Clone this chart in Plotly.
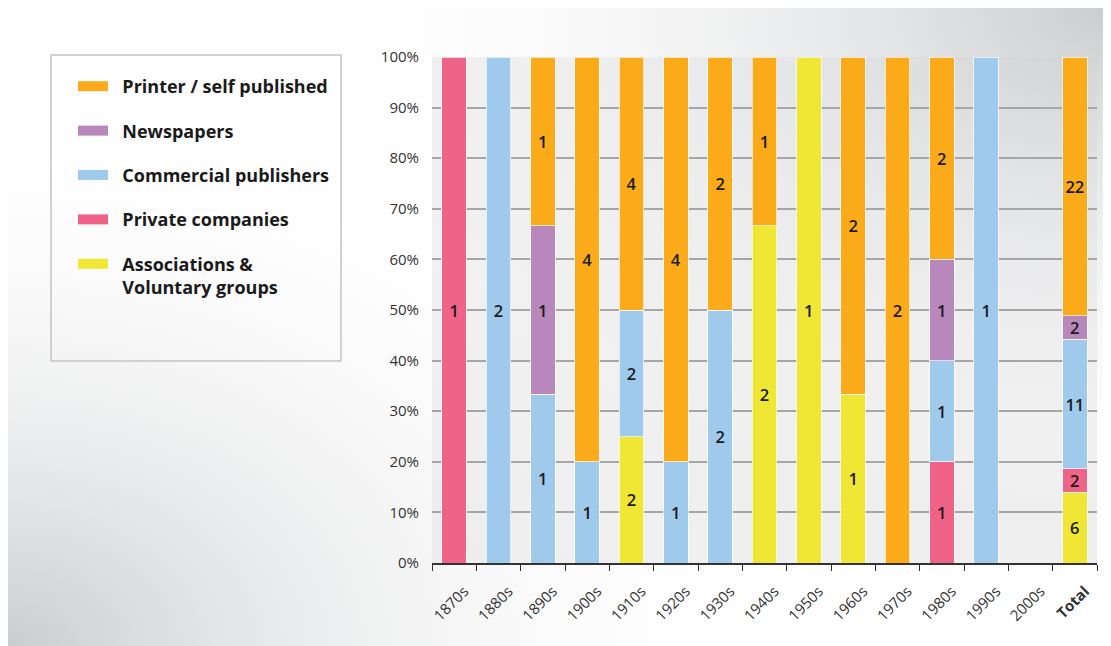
import plotly.graph_objects as go

decades = ["1870s", "1880s", "1890s", "1900s", "1910s", "1920s", "1930s",
           "1940s", "1950s", "1960s", "1970s", "1980s", "1990s", "2000s", "Total"]
tick_text = decades[:-1] + ["<b>Total</b>"]

# counts per decade (0 = no publications of that kind)
associations = [0, 0, 0, 0, 2, 0, 0, 2, 1, 1, 0, 0, 0, 0, 6]
private_companies = [1, 0, 0, 0, 0, 0, 0, 0, 0, 0, 0, 1, 0, 0, 2]
commercial = [0, 2, 1, 1, 2, 1, 2, 0, 0, 0, 0, 1, 1, 0, 11]
newspapers = [0, 0, 1, 0, 0, 0, 0, 0, 0, 0, 0, 1, 0, 0, 2]
printer = [0, 0, 1, 4, 4, 4, 2, 1, 0, 2, 2, 2, 0, 0, 22]

# bottom -> top of each stack
series = [
    ("Associations &<br>Voluntary groups", associations, "#EFE733"),
    ("Private companies", private_companies, "#EF6389"),
    ("Commercial publishers", commercial, "#A0CAEC"),
    ("Newspapers", newspapers, "#B887BB"),
    ("Printer / self published", printer, "#FBAA19"),
]

# the page body adds an 8px margin, so the figure is 8px smaller than the window
OFF = 8
W, H = 1111 - OFF, 646 - OFF


def px_x(x):
    return (x - OFF) / W


def px_y(y):
    return 1 - (y - OFF) / H


# plot area (screen pixels)
left, right, top, bottom = 432, 1097, 57, 563

fig = go.Figure()

# soft grey shading in two corners (decoration, on a hidden full-page axis)
for cx, cy, rx, ry in [(1.0, 1.0, 0.75, 0.8), (0.0, 0.0, 0.7, 0.85)]:
    fig.add_trace(go.Scatter(
        x=[cx - rx, cx + rx, cx + rx, cx - rx, cx - rx],
        y=[cy - ry, cy - ry, cy + ry, cy + ry, cy - ry],
        fill="toself", mode="none", hoverinfo="skip", showlegend=False,
        fillgradient=dict(type="radial",
                          colorscale=[[0, "rgba(200,202,205,0.95)"],
                                      [1, "rgba(255,255,255,0)"]]),
        xaxis="x", yaxis="y",
    ))

pad = "\u00a0\u00a0"
n = len(series)
for i, (name, vals, color) in enumerate(series):
    fig.add_trace(go.Bar(
        x=decades,
        y=[v if v else None for v in vals],
        text=[str(v) if v else None for v in vals],
        texttemplate="%{text}",
        textposition="inside",
        insidetextanchor="middle",
        textangle=0,
        constraintext="none",
        textfont=dict(family="Open Sans", size=16.5, color="#1a1a1a", weight=600),
        name=name.replace("<br>", " "),
        legendgroup=f"g{i}",
        showlegend=False,
        marker=dict(color=color, line=dict(color="rgba(255,255,255,0.7)", width=1)),
        xaxis="x2", yaxis="y2",
    ))
    # legend entry drawn as a thick short line to get a wide swatch
    fig.add_trace(go.Scatter(
        x=[None], y=[None], mode="lines",
        name=pad + name.replace("<br>", "<br>" + pad),
        line=dict(color=color, width=14),
        legendgroup=f"g{i}", legendrank=n - i,
        xaxis="x2", yaxis="y2",
    ))

# light grey plot area behind the bars
fig.add_shape(type="rect", xref="paper", yref="paper", layer="below",
              x0=px_x(left), x1=px_x(right), y0=px_y(bottom), y1=px_y(top),
              fillcolor="#efeff0", line_width=0)
# legend frame
fig.add_shape(type="rect", xref="paper", yref="paper", layer="above",
              x0=px_x(51), x1=px_x(341), y0=px_y(361), y1=px_y(55),
              fillcolor="rgba(0,0,0,0)", line=dict(color="#c4c4c4", width=1.5))

fig.update_layout(
    width=W, height=H,
    margin=dict(l=0, r=0, t=0, b=0),
    paper_bgcolor="white",
    plot_bgcolor="rgba(0,0,0,0)",
    barmode="stack",
    barnorm="fraction",
    bargap=0.45,
    font=dict(family="Open Sans", color="#333333"),
    xaxis=dict(domain=[0, 1], range=[0, 1], visible=False, fixedrange=True),
    yaxis=dict(domain=[0, 1], range=[0, 1], visible=False, fixedrange=True),
    xaxis2=dict(
        domain=[px_x(left), px_x(right)], anchor="y2",
        tickvals=decades, ticktext=tick_text,
        tickangle=-45, tickfont=dict(size=15, color="#333333"),
        ticks="outside", tickson="boundaries", ticklen=6, tickcolor="#333333",
        ticklabelshift=10, ticklabelstandoff=12,
        showline=True, linecolor="#333333", linewidth=1.5,
        showgrid=False, automargin=False,
    ),
    yaxis2=dict(
        domain=[px_y(bottom), px_y(top)], anchor="x2",
        range=[0, 1], tickvals=[i / 10 for i in range(11)], tickformat=".0%",
        tickfont=dict(size=15, color="#333333"), ticks="", ticklabelstandoff=12,
        showgrid=True, gridcolor="#a6a6a6", gridwidth=2,
        zeroline=False, showline=False, automargin=False,
    ),
    legend=dict(
        x=px_x(73), y=px_y(68), xanchor="left", yanchor="top",
        traceorder="grouped", tracegroupgap=18, valign="top",
        font=dict(family="Open Sans", size=18, color="#1a1a1a", weight="bold"),
        bgcolor="rgba(0,0,0,0)", borderwidth=0,
    ),
    showlegend=True,
)

fig.write_html("out.html")
